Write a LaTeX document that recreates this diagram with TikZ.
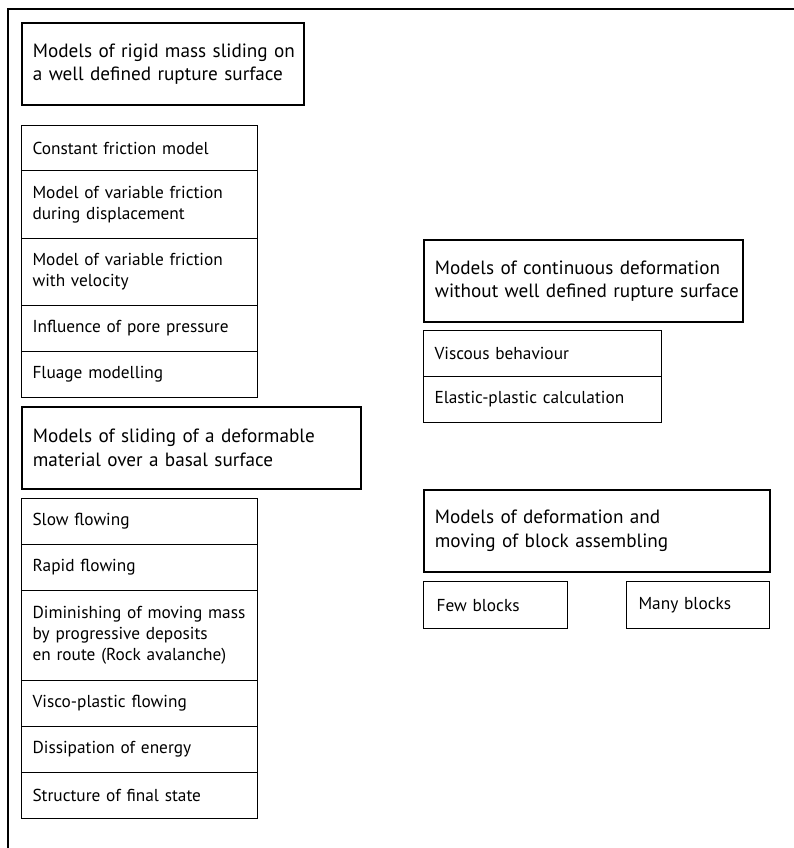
\documentclass[tikz,border=0pt]{standalone}
\usepackage{fontspec}
\setmainfont{PT Sans}
\begin{document}
\begin{tikzpicture}[x=1pt,y=-1pt,
  head/.style 2 args={draw, line width=1.8pt, anchor=north west, align=left,
    inner xsep=11pt, inner ysep=0pt, text width=#1-22pt, minimum height=#2,
    font=\fontsize{19.2}{23.5}\selectfont},
  item/.style 2 args={draw, line width=1.1pt, anchor=north west, align=left,
    inner xsep=11pt, inner ysep=0pt, text width=#1-22pt, minimum height=#2,
    font=\fontsize{17.3}{21}\selectfont}]
\useasboundingbox (0,0) rectangle (794,848);
\draw[line width=1.4pt] (8,848) -- (8,9) -- (794,9);
% group 1
\node[head={282pt}{82pt}] (h1) at (21,22) {\mbox{Models of rigid mass sliding on}\\\mbox{a well defined rupture surface}};
\node[item={236pt}{45pt}] (a1) at (21,125) {Constant friction model};
\node[item={236pt}{68pt}] (a2) at (21,170) {Model of variable friction\\during displacement};
\node[item={236pt}{67pt}] (a3) at (21,238) {Model of variable friction\\with velocity};
\node[item={236pt}{46pt}] (a4) at (21,305) {Influence of pore pressure};
\node[item={236pt}{46pt}] (a5) at (21,351) {Fluage modelling};
% group 2
\node[head={339pt}{82pt}] (h2) at (21,406) {\mbox{Models of sliding of a deformable}\\\mbox{material over a basal surface}};
\node[item={236pt}{46pt}] (b1) at (21,498) {Slow flowing};
\node[item={236pt}{46pt}] (b2) at (21,544) {Rapid flowing};
\node[item={236pt}{90pt}] (b3) at (21,590) {Diminishing of moving mass\\by progressive deposits\\en route (Rock avalanche)};
\node[item={236pt}{46pt}] (b4) at (21,680) {Visco-plastic flowing};
\node[item={236pt}{46pt}] (b5) at (21,726) {Dissipation of energy};
\node[item={236pt}{46pt}] (b6) at (21,772) {Structure of final state};
% group 3
\node[head={319pt}{82pt}] (h3) at (423,239) {\mbox{Models of continuous deformation}\\\mbox{without well defined rupture surface}};
\node[item={238pt}{46pt}] (c1) at (423,330) {Viscous behaviour};
\node[item={238pt}{46pt}] (c2) at (423,376) {Elastic-plastic calculation};
% group 4
\node[head={346pt}{82pt}] (h4) at (423,489) {\mbox{Models of deformation and}\\\mbox{moving of block assembling}};
\node[item={144pt}{47pt}, inner xsep=13pt, text width=118pt] (d1) at (423,581) {Few blocks};
\node[item={143pt}{47pt}, inner xsep=12pt, text width=119pt] (d2) at (626,581) {Many blocks};
\end{tikzpicture}
\end{document}
